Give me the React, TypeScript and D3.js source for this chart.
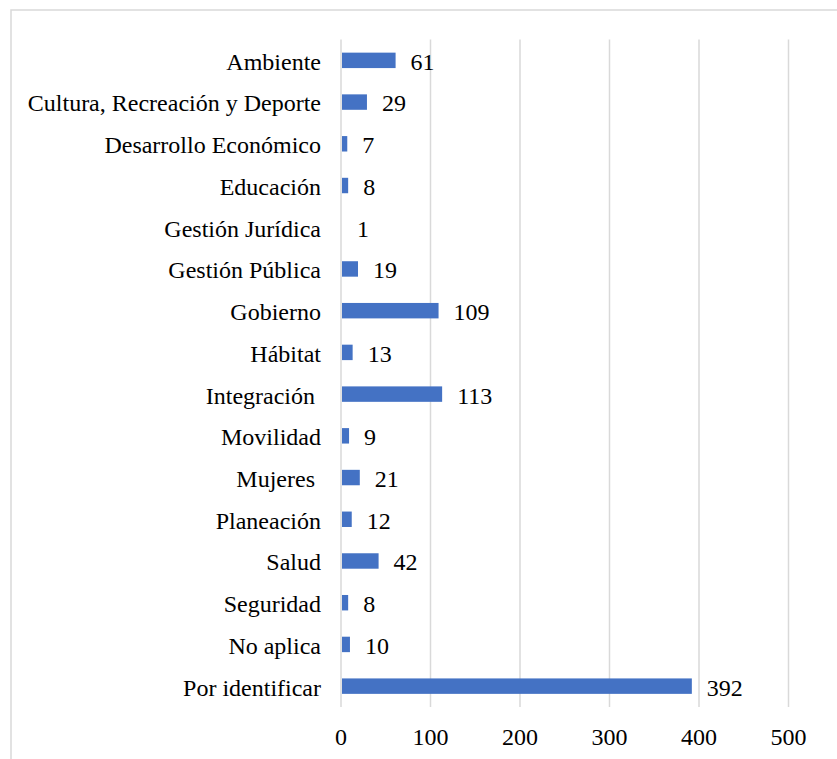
import React from 'react';
import * as d3 from 'd3';

const categories = [
  'Ambiente',
  'Cultura, Recreación y Deporte',
  'Desarrollo Económico',
  'Educación',
  'Gestión Jurídica',
  'Gestión Pública',
  'Gobierno',
  'Hábitat',
  'Integración ',
  'Movilidad',
  'Mujeres ',
  'Planeación',
  'Salud',
  'Seguridad',
  'No aplica',
  'Por identificar',
];
const counts = [61, 29, 7, 8, 1, 19, 109, 13, 113, 9, 21, 12, 42, 8, 10, 392];
const ticks = [0, 100, 200, 300, 400, 500];

const width = 837;
const height = 759;
const FONT = 'Liberation Serif';
const FS = 24;

const App: React.FC = () => {
  const x = d3.scaleLinear().domain([0, 500]).range([341, 788.5]);
  const y = d3.scaleBand<string>()
    .domain(categories)
    .range([39.5, 707])
    .paddingInner(0.63)
    .paddingOuter(0.315);
  const mid = (c: string) => (y(c) ?? 0) + y.bandwidth() / 2;

  return (
    <svg
      width={width}
      height={height}
      style={{ position: 'absolute', left: 0, top: 0, background: '#fff' }}
    >
      {/* outer frame */}
      <rect x={11} y={10} width={840} height={760} fill="#fff" stroke="#d9d9d9" strokeWidth={1.5} />

      {/* gridlines */}
      {ticks.map(t => (
        <line key={t} x1={x(t)} x2={x(t)} y1={39.5} y2={707} stroke="#d9d9d9" strokeWidth={1.5} />
      ))}

      {/* bars */}
      {categories.map((c, i) => (
        <rect
          key={c}
          x={x(0) + 1}
          y={y(c)}
          width={Math.max(0, x(counts[i]) - x(0) - 1)}
          height={y.bandwidth()}
          fill="#4472c4"
        />
      ))}

      {/* value labels */}
      {categories.map((c, i) => (
        <text key={c} x={x(counts[i]) + 15} y={mid(c) + 1} dy="0.35em" fontFamily={FONT} fontSize={FS} fill="#000">
          {counts[i]}
        </text>
      ))}

      {/* category labels (trailing spaces kept, as in the source sheet) */}
      {categories.map(c => (
        <text
          key={c}
          x={321}
          y={mid(c) + 1}
          dy="0.35em"
          textAnchor="end"
          fontFamily={FONT}
          fontSize={FS}
          fill="#000"
          style={{ whiteSpace: 'pre' }}
        >
          {c}
        </text>
      ))}

      {/* x tick labels */}
      {ticks.map(t => (
        <text key={t} x={x(t)} y={737} dy="0.35em" textAnchor="middle" fontFamily={FONT} fontSize={FS} fill="#000">
          {t}
        </text>
      ))}
    </svg>
  );
};

export default App;
